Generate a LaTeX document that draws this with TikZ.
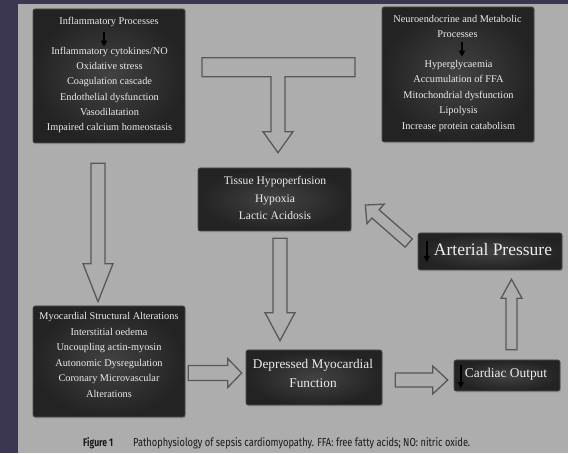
\documentclass[tikz,border=0pt]{standalone}
\usepackage{fontspec}
\setmainfont{Liberation Serif}
\newfontfamily\capfont{Fira Sans}
\usetikzlibrary{calc,shadows,arrows.meta}
\definecolor{bgdark}{HTML}{3B3651}
\definecolor{bggrey}{HTML}{ADADAD}
\definecolor{boxin}{HTML}{424242}
\definecolor{boxout}{HTML}{232323}
\definecolor{boxedge}{HTML}{4E4E4E}
\definecolor{boxtext}{HTML}{ECECEC}
\definecolor{arrline}{HTML}{585858}
\definecolor{captext}{HTML}{1A1A1A}

\tikzset{
  darkbox/.style={draw=boxedge, line width=0.6pt, rounded corners=2pt,
    inner color=boxin, outer color=boxout,
    drop shadow={shadow xshift=1pt, shadow yshift=-1.5pt, opacity=0.3},
    inner sep=0pt},
  boxtxt/.style={text=boxtext, align=center, inner sep=0pt},
  fatarr/.style={draw=arrline, fill=bggrey, line width=1.3pt, line join=miter},
  smallarr/.style={draw=black, line width=1.6pt, -{Triangle[width=6pt,length=6pt]}},
  captxt/.style={anchor=base west, inner sep=0pt, text=captext}
}

\newcommand\fatarrow[5]{%
  \path let \p1=($(#2)-(#1)$) in \pgfextra{%
    \pgfmathsetmacro\farrlen{veclen(\x1,\y1)}%
    \pgfmathsetmacro\farrang{atan2(\y1,\x1)}%
    \global\let\farrlen\farrlen
    \global\let\farrang\farrang};
  \draw[fatarr, shift={(#1)}, rotate=\farrang] (0,-#3) -- ({\farrlen-#5},-#3)
    -- ({\farrlen-#5},-#4) -- (\farrlen,0) -- ({\farrlen-#5},#4)
    -- ({\farrlen-#5},#3) -- (0,#3) -- cycle;
}

\begin{document}
\begin{tikzpicture}[x=1pt,y=1pt]
\useasboundingbox (0,0) rectangle (568,453);
\fill[bgdark] (0,0) rectangle (568,453);
\fill[bggrey] (18,0) rectangle (568,449);

% boxes
\node[darkbox, minimum width=152pt, minimum height=134pt] (infl) at (109,377) {};
\node[darkbox, minimum width=152pt, minimum height=135pt] (neuro) at (458,378.5) {};
\node[darkbox, minimum width=153pt, minimum height=63pt] (tissue) at (274.5,253.5) {};
\node[darkbox, minimum width=152pt, minimum height=111pt] (myo) at (109,91.5) {};
\node[darkbox, minimum width=136pt, minimum height=55pt] (depr) at (314,75.5) {};
\node[darkbox, minimum width=106pt, minimum height=31pt] (card) at (507,77.5) {};
\node[darkbox, minimum width=144pt, minimum height=37pt] (art) at (490,201.5) {};

% connector end points
\coordinate (Ttip) at ($(tissue.north)+(3.5,15)$);
\coordinate (Bt) at ($(infl.south)+(-11,-20)$);
\coordinate (Bh) at ($(myo.north)+(-11,4)$);
\coordinate (Ct) at ($(tissue.south)+(5.5,-7)$);
\coordinate (Ch) at ($(depr.north)+(-34,9)$);
\coordinate (Dt) at ($(myo.east)+(3,-11.5)$);
\coordinate (Dh) at ($(depr.west)+(-4,4.5)$);
\coordinate (Et) at ($(depr.east)+(13,-2.5)$);
\coordinate (Eh) at ($(card.west)+(-6,-4.5)$);
\coordinate (Ft) at ($(card.north)+(4.5,10)$);
\coordinate (Fh) at ($(art.south)+(21.5,-9)$);
\coordinate (Gt) at ($(art.west)+(-9,8.5)$);
\coordinate (Gh) at ($(tissue.east)+(14,-5.5)$);

% T-shaped arrow from the two upper boxes
\draw[fatarr, shift={(Ttip)}] (-76,95) -- (77,95) -- (77,76) -- (7,76) -- (7,21)
  -- (15,21) -- (0,0) -- (-15,21) -- (-7,21) -- (-7,76) -- (-76,76) -- cycle;

\fatarrow{Bt}{Bh}{7}{15}{38}
\fatarrow{Ct}{Ch}{7}{15}{28}
\fatarrow{Dt}{Dh}{7.5}{14.5}{14}
\fatarrow{Et}{Eh}{7}{14}{15}
\fatarrow{Ft}{Fh}{5.5}{10.5}{19}
\fatarrow{Gt}{Gh}{5.5}{13}{13.5}

% texts
\node[boxtxt, font=\fontsize{10.3}{15.2}\selectfont] (infltitle) at (109,431) {Inflammatory Processes};
\node[boxtxt, font=\fontsize{10.3}{15.2}\selectfont] (infllist) at (109.5,363)
  {Inflammatory cytokines/NO\\Oxidative stress\\Coagulation cascade\\Endothelial dysfunction\\Vasodilatation\\Impaired calcium homeostasis};
\node[boxtxt, font=\fontsize{10.3}{15}\selectfont] (neurotitle) at (457.5,426.5)
  {Neuroendocrine and Metabolic\\Processes};
\node[boxtxt, font=\fontsize{10.3}{15.5}\selectfont] (neurolist) at (458.5,357)
  {Hyperglycaemia\\Accumulation of FFA\\Mitochondrial dysfunction\\Lipolysis\\Increase protein catabolism};
\node[boxtxt, font=\fontsize{11.6}{17.5}\selectfont] (tissuetxt) at (275,255)
  {Tissue Hypoperfusion\\Hypoxia\\Lactic Acidosis};
\node[boxtxt, font=\fontsize{10.3}{15.6}\selectfont] (myotxt) at (109,98)
  {Myocardial Structural Alterations\\Interstitial oedema\\Uncoupling actin-myosin\\Autonomic Dysregulation\\Coronary Microvascular\\Alterations};
\node[boxtxt, font=\fontsize{13.3}{19}\selectfont] (deprtxt) at (313,80)
  {Depressed Myocardial\\Function};
\node[boxtxt, font=\fontsize{13.4}{16}\selectfont] (cardtxt) at (506,79) {Cardiac Output};
\node[boxtxt, font=\fontsize{17.5}{20}\selectfont] (arttxt) at (493,203) {Arterial Pressure};

% small black arrows inside boxes
\coordinate (ia) at ($(infl.north)+(-5,-23)$);
\coordinate (ib) at ($(infl.north)+(-5,-38)$);
\coordinate (na) at ($(neuro.north)+(4,-35)$);
\coordinate (nb) at ($(neuro.north)+(4,-50)$);
\coordinate (ca) at ($(card.west)+(7,10.5)$);
\coordinate (cb) at ($(card.west)+(7,-12.5)$);
\coordinate (aa) at ($(art.west)+(9,10.5)$);
\coordinate (ab) at ($(art.west)+(9,-10.5)$);
\draw[smallarr] (ia) -- (ib);
\draw[smallarr] (na) -- (nb);
\draw[smallarr] (ca) -- (cb);
\draw[smallarr] (aa) -- (ab);

% caption
\node[captxt] (figlabel) at (83,6.5) {\resizebox{30pt}{9pt}{\capfont\bfseries Figure 1}};
\node[captxt] (figcap) at (133,6.5) {\resizebox{337pt}{9pt}{\capfont Pathophysiology of sepsis cardiomyopathy. FFA: free fatty acids; NO: nitric oxide.}};
\end{tikzpicture}
\end{document}
